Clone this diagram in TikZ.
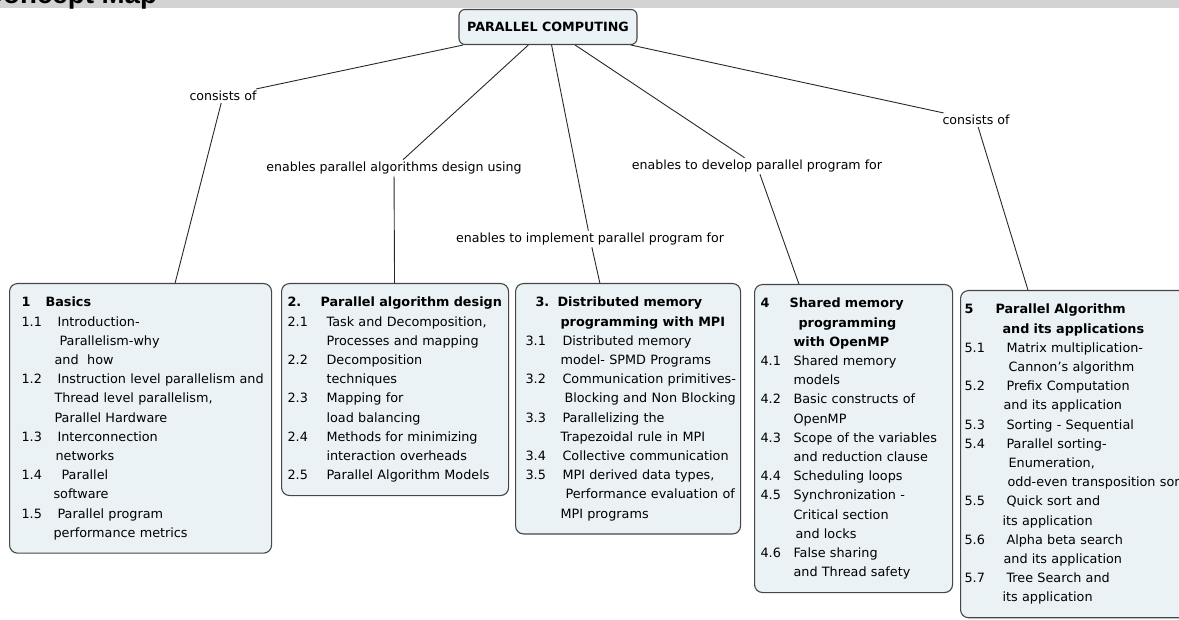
\documentclass[tikz,border=0pt]{standalone}
\usepackage{fontspec}
\setmainfont{DejaVu Sans}
\newfontfamily\headfont{Liberation Sans}
\definecolor{boxfill}{RGB}{234,242,245}
\definecolor{boxline}{RGB}{70,70,70}
\definecolor{linkline}{RGB}{40,40,40}
\definecolor{bandgray}{RGB}{211,211,211}
\newcommand{\mapfont}{\fontsize{12.6}{19.2}\selectfont}
\newcommand{\topicfont}{\fontsize{12.8}{19.2}\selectfont}
\tikzset{
  root/.style={rectangle,rounded corners=6pt,draw=boxline,line width=1.1pt,
               fill=boxfill,minimum width=178pt,minimum height=35pt,
               font=\fontsize{12.7}{15}\selectfont\bfseries},
  topic/.style={rectangle,rounded corners=8pt,draw=boxline,line width=1.1pt,
                fill=boxfill,anchor=north west,inner ysep=10pt,font=\topicfont},
  linkword/.style={inner sep=2pt,font=\mapfont},
  link/.style={draw=linkline,line width=0.9pt},
}
\begin{document}
\begin{tikzpicture}[x=1pt,y=-1pt]
    \clip (0,0) rectangle (1179,620);
    \fill[bandgray] (0,0) rectangle (1179,8);
    \node[anchor=base west,inner sep=0pt,
          font=\headfont\bfseries\fontsize{27.7}{30}\selectfont] (head) at (-17,4) {Concept Map};

    \node[root] (pc) at (548,27) {PARALLEL COMPUTING};

    \node[linkword] (w1) at (223,96)  {consists of};
    \node[linkword] (w2) at (394,168) {enables parallel algorithms design using};
    \node[linkword] (w3) at (590,239) {enables to implement parallel program for};
    \node[linkword] (w4) at (757,166) {enables to develop parallel program for};
    \node[linkword] (w5) at (976,120) {consists of};

    \node[topic,inner xsep=12pt,text width=238pt] (basics) at (9,283) {%
      \begin{tabular}{@{}p{36pt}@{}l@{}}
        \textbf{1} & \hspace*{-12pt}\textbf{Basics}\\
        1.1 & Introduction-\\
            & \hspace*{2pt}Parallelism-why\\
            & \hspace*{-3pt}and\ \ how\\
        1.2 & Instruction level parallelism and\\
            & \hspace*{-3pt}Thread level parallelism,\\
            & \hspace*{-3pt}Parallel Hardware\\
        1.3 & Interconnection\\
            & \hspace*{-2pt}networks\\
        1.4 & \hspace*{4pt}Parallel\\
            & \hspace*{-4pt}software\\
        1.5 & Parallel program\\
            & \hspace*{-4pt}performance metrics
      \end{tabular}};

    \node[topic,inner xsep=6pt,text width=215pt] (design) at (281,283) {%
      \begin{tabular}{@{}p{39pt}@{}l@{}}
        \textbf{2.} & \hspace*{-6pt}\textbf{Parallel algorithm design}\\
        2.1 & Task and Decomposition,\\
            & Processes and mapping\\
        2.2 & Decomposition\\
            & techniques\\
        2.3 & Mapping for\\
            & load balancing\\
        2.4 & Methods for minimizing\\
            & interaction overheads\\
        2.5 & Parallel Algorithm Models
      \end{tabular}};

    \node[topic,inner xsep=10pt,text width=205pt] (mpi) at (515,283) {%
      \begin{tabular}{@{}p{37pt}@{}l@{}}
        \hspace*{10pt}\textbf{3.} & \hspace*{-5pt}\textbf{Distributed memory}\\
            & \hspace*{-2pt}\textbf{programming with MPI}\\
        3.1 & Distributed memory\\
            & \hspace*{-2pt}model- SPMD Programs\\
        3.2 & Communication primitives-\\
            & \hspace*{2pt}Blocking and Non Blocking\\
        3.3 & Parallelizing the\\
            & \hspace*{-2pt}Trapezoidal rule in MPI\\
        3.4 & Collective communication\\
        3.5 & MPI derived data types,\\
            & \hspace*{3pt}Performance evaluation of\\
            & \hspace*{-2pt}MPI programs
      \end{tabular}};

    \node[topic,inner xsep=6pt,text width=186pt] (openmp) at (754,284) {%
      \begin{tabular}{@{}p{33pt}@{}l@{}}
        \textbf{4} & \hspace*{-4pt}\textbf{Shared memory}\\
            & \hspace*{5pt}\textbf{programming}\\
            & \textbf{with OpenMP}\\
        4.1 & Shared memory\\
            & models\\
        4.2 & Basic constructs of\\
            & OpenMP\\
        4.3 & Scope of the variables\\
            & and reduction clause\\
        4.4 & Scheduling loops\\
        4.5 & Synchronization -\\
            & Critical section\\
            & \hspace*{2pt}and locks\\
        4.6 & False sharing\\
            & and Thread safety
      \end{tabular}};

    \node[topic,inner xsep=4pt,text width=227pt] (apps) at (960,290) {%
      \begin{tabular}{@{}p{42pt}@{}l@{}}
        \textbf{5} & \hspace*{-11pt}\textbf{Parallel Algorithm}\\
            & \hspace*{-4pt}\textbf{and its applications}\\
        5.1 & Matrix multiplication-\\
            & \hspace*{2pt}Cannon’s algorithm\\
        5.2 & Prefix Computation\\
            & \hspace*{-3pt}and its application\\
        5.3 & Sorting - Sequential\\
        5.4 & Parallel sorting-\\
            & \hspace*{2pt}Enumeration,\\
            & \hspace*{1pt}odd-even transposition sort\\
        5.5 & Quick sort and\\
            & \hspace*{-4pt}its application\\
        5.6 & Alpha beta search\\
            & \hspace*{-3pt}and its application\\
        5.7 & Tree Search and\\
            & \hspace*{-4pt}its application
      \end{tabular}};

    \foreach \w/\t in {w1/basics,w2/design,w3/mpi,w4/openmp,w5/apps}{
      \draw[link] (pc) -- (\w) -- (\t);
    }
\end{tikzpicture}
\end{document}
